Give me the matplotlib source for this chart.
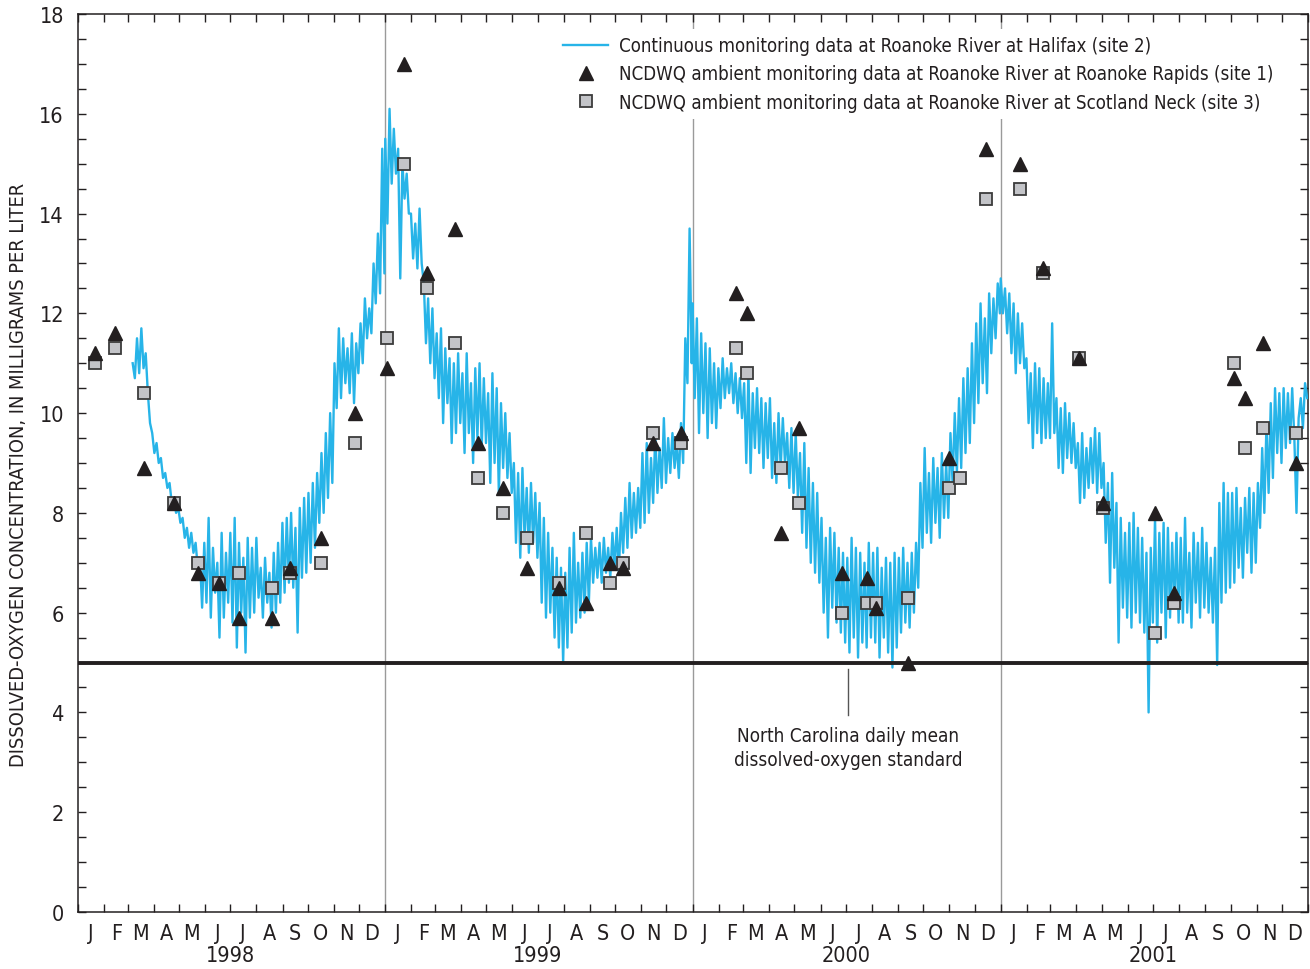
import numpy as np
import pandas as pd
import matplotlib
matplotlib.use("Agg")
import matplotlib.pyplot as plt
import matplotlib.dates as mdates
import matplotlib.transforms as mtransforms
from matplotlib.ticker import MultipleLocator, FuncFormatter, NullFormatter

plt.rcParams['font.family'] = ['DejaVu Sans']
plt.rcParams['font.stretch'] = 'condensed'

# Continuous dissolved-oxygen record, Roanoke River at Halifax (site 2), mg/L
# 12 readings per month, alternating daily highs and lows
do_1998 = [11.0, 10.7, 11.5, 10.8, 11.7, 10.9, 11.2, 10.4, 9.8,
           9.6, 9.2, 9.4, 9.0, 9.1, 8.7, 8.8, 8.5, 8.6, 8.2, 8.3, 8.0,
           8.1, 7.8, 7.9, 7.5, 7.7, 7.3, 7.6, 7.2, 7.4, 6.9, 7.1, 6.1,
           7.4, 6.2, 7.9, 5.9, 7.3, 6.4, 7.0, 5.5, 7.6, 5.9, 7.2, 6.2,
           7.6, 5.8, 7.9, 5.3, 7.4, 6.0, 7.1, 5.2, 7.5, 5.9, 7.3, 6.0,
           7.5, 6.3, 6.9, 5.9, 7.1, 6.2, 6.8, 5.7, 7.2, 6.0, 7.4, 6.2,
           7.8, 6.4, 7.9, 6.6, 8.0, 6.5, 7.7, 5.6, 8.1, 6.7, 8.3, 6.8,
           8.4, 7.0, 8.6, 7.3, 8.8, 7.8, 9.2, 8.0, 9.6, 8.3, 10.0, 8.6,
           11.0, 10.1, 11.7, 10.3, 11.5, 10.6, 11.3, 10.4, 11.6, 10.2, 11.4, 10.8,
           11.8, 11.0, 12.3, 11.5, 12.1, 11.6, 13.0, 12.2, 13.6, 12.4, 15.3, 12.8]
do_1999 = [15.5, 13.8, 16.1, 14.6, 15.7, 14.8, 15.3, 12.7, 15.0, 14.3, 14.8, 14.0,
           14.0, 13.1, 13.8, 12.9, 14.1, 13.0, 12.6, 11.4, 12.3, 11.0, 12.1, 10.7,
           11.6, 10.3, 11.7, 9.8, 11.3, 10.2, 11.1, 9.4, 11.0, 9.6, 11.2, 9.8,
           10.8, 9.2, 11.2, 9.6, 10.6, 9.0, 10.9, 9.5, 11.0, 9.3, 10.7, 9.4,
           10.4, 8.6, 10.8, 9.0, 10.5, 8.4, 10.2, 8.9, 10.0, 8.7, 9.6, 8.4,
           9.0, 7.4, 8.8, 7.1, 8.9, 7.5, 8.5, 7.2, 8.6, 7.4, 8.4, 7.1,
           8.2, 6.2, 7.9, 5.9, 7.6, 6.0, 7.3, 5.5, 7.1, 5.3, 6.9, 5.0,
           6.8, 5.3, 7.3, 5.6, 7.6, 5.8, 7.0, 5.9, 7.2, 6.0, 7.4, 6.2,
           7.5, 6.6, 7.3, 6.7, 7.4, 6.6, 7.5, 6.8, 7.3, 6.7, 7.6, 6.9,
           7.7, 6.8, 8.0, 7.2, 8.3, 7.3, 8.6, 7.5, 8.4, 7.6, 8.5, 7.7,
           9.2, 7.8, 9.4, 8.0, 9.1, 8.2, 9.6, 8.4, 9.3, 8.5, 9.9, 8.6,
           9.5, 8.8, 9.6, 8.9, 9.4, 8.7, 9.8, 9.0, 11.5, 10.6, 13.7, 11.0]
do_2000 = [12.2, 10.3, 11.9, 9.6, 11.6, 10.0, 11.4, 9.5, 11.3, 9.8, 11.0, 9.7,
           10.9, 10.1, 11.1, 10.3, 10.9, 10.4, 11.0, 10.2, 10.8, 10.0, 10.7, 9.9,
           10.6, 9.0, 10.8, 8.8, 10.4, 9.3, 10.5, 9.2, 10.3, 8.9, 10.2, 9.1,
           10.3, 8.7, 9.8, 8.6, 10.0, 8.9, 9.9, 9.0, 9.6, 8.5, 9.7, 8.4,
           9.6, 8.3, 9.2, 7.6, 9.4, 7.3, 8.9, 7.0, 8.6, 6.8, 8.4, 6.6,
           7.9, 6.0, 7.5, 5.5, 7.7, 6.1, 7.6, 5.8, 7.3, 5.6, 7.2, 5.4,
           7.1, 5.2, 7.5, 5.5, 7.3, 5.1, 7.2, 5.4, 7.0, 5.3, 7.4, 5.5,
           7.2, 5.4, 7.3, 5.1, 6.9, 5.5, 7.1, 5.2, 7.0, 4.9, 7.2, 5.3,
           7.1, 5.6, 7.3, 5.8, 7.0, 5.7, 7.2, 6.0, 7.4, 6.5, 8.6, 7.3,
           9.3, 7.6, 8.8, 7.4, 9.1, 7.8, 8.9, 7.5, 9.2, 7.9, 9.0, 7.9,
           9.6, 8.6, 10.0, 8.8, 10.3, 8.9, 10.7, 9.2, 10.9, 9.4, 11.4, 9.8,
           11.8, 10.2, 12.2, 10.6, 11.9, 10.4, 12.4, 11.2, 12.3, 11.5, 12.6, 12.0]
do_2001 = [12.7, 12.0, 12.5, 11.6, 12.4, 11.2, 12.2, 10.8, 12.0, 11.0, 11.8, 10.9,
           11.1, 9.8, 10.8, 9.3, 11.0, 9.6, 10.9, 9.4, 10.7, 9.5, 10.6, 9.5,
           11.8, 9.6, 10.3, 8.9, 10.1, 8.8, 10.2, 9.1, 10.0, 9.0, 9.8, 8.9,
           9.4, 8.2, 9.6, 8.3, 9.3, 8.5, 9.5, 8.6, 9.7, 8.4, 9.6, 8.5,
           9.0, 7.4, 8.6, 6.6, 8.8, 6.9, 8.2, 5.4, 7.9, 6.1, 7.6, 5.9,
           7.8, 5.7, 8.0, 6.0, 7.7, 5.8, 7.5, 5.6, 7.2, 4.0, 7.3, 5.8,
           7.9, 5.4, 7.6, 6.0, 7.8, 5.5, 7.7, 5.9, 7.4, 6.1, 7.6, 5.8,
           7.5, 5.8, 7.9, 6.0, 7.2, 5.7, 7.6, 6.2, 7.4, 5.9, 7.7, 6.1,
           7.4, 6.0, 7.1, 5.8, 7.3, 4.95, 8.2, 6.2, 8.6, 6.4, 8.4, 6.5,
           8.4, 6.6, 8.5, 6.9, 8.1, 6.7, 8.3, 7.2, 8.5, 6.8, 8.4, 7.0,
           8.6, 7.7, 9.3, 8.0, 9.8, 8.4, 10.2, 8.7, 10.5, 9.2, 10.4, 9.0,
           10.5, 9.3, 10.4, 9.4, 10.5, 9.5, 8.0, 9.9, 10.3, 9.7, 10.6, 10.3]
record_spans = [('1998-03-07', '1998-12-31', do_1998),
                ('1999-01-01', '1999-12-31', do_1999),
                ('2000-01-01', '2000-12-31', do_2000),
                ('2001-01-01', '2001-12-31', do_2001)]

# NCDWQ ambient samples, Roanoke River at Roanoke Rapids (site 1)
site1_dates = ['1998-01-21', '1998-02-14', '1998-03-21', '1998-04-25', '1998-05-23',
               '1998-06-18', '1998-07-11', '1998-08-20', '1998-09-10', '1998-10-17',
               '1998-11-26', '1999-01-03', '1999-01-23', '1999-02-19', '1999-03-25',
               '1999-04-21', '1999-05-21', '1999-06-18', '1999-07-26', '1999-08-27',
               '1999-09-25', '1999-10-10', '1999-11-15', '1999-12-18', '2000-02-22',
               '2000-03-06', '2000-04-15', '2000-05-06', '2000-06-27', '2000-07-26',
               '2000-08-06', '2000-09-13', '2000-10-31', '2000-12-15', '2001-01-24',
               '2001-02-20', '2001-04-04', '2001-05-02', '2001-07-03', '2001-07-26',
               '2001-10-05', '2001-10-18', '2001-11-09', '2001-12-18']
site1_do = [11.2, 11.6, 8.9, 8.2, 6.8, 6.6, 5.9, 5.9, 6.9, 7.5,
            10.0, 10.9, 17.0, 12.8, 13.7, 9.4, 8.5, 6.9, 6.5, 6.2,
            7.0, 6.9, 9.4, 9.6, 12.4, 12.0, 7.6, 9.7, 6.8, 6.7,
            6.1, 5.0, 9.1, 15.3, 15.0, 12.9, 11.1, 8.2, 8.0, 6.4,
            10.7, 10.3, 11.4, 9.0]

# NCDWQ ambient samples, Roanoke River at Scotland Neck (site 3)
site3_dates = ['1998-01-21', '1998-02-14', '1998-03-21', '1998-04-25', '1998-05-23',
               '1998-06-18', '1998-07-11', '1998-08-20', '1998-09-10', '1998-10-17',
               '1998-11-26', '1999-01-03', '1999-01-23', '1999-02-19', '1999-03-25',
               '1999-04-21', '1999-05-21', '1999-06-18', '1999-07-26', '1999-08-27',
               '1999-09-25', '1999-10-10', '1999-11-15', '1999-12-18', '2000-02-22',
               '2000-03-06', '2000-04-15', '2000-05-06', '2000-06-27', '2000-07-26',
               '2000-08-06', '2000-09-13', '2000-10-31', '2000-11-14', '2000-12-15',
               '2001-01-24', '2001-02-20', '2001-04-04', '2001-05-02', '2001-07-03',
               '2001-07-26', '2001-10-05', '2001-10-18', '2001-11-09', '2001-12-18']
site3_do = [11.0, 11.3, 10.4, 8.2, 7.0, 6.6, 6.8, 6.5, 6.8, 7.0,
            9.4, 11.5, 15.0, 12.5, 11.4, 8.7, 8.0, 7.5, 6.6, 7.6,
            6.6, 7.0, 9.6, 9.4, 11.3, 10.8, 8.9, 8.2, 6.0, 6.2,
            6.2, 6.3, 8.5, 8.7, 14.3, 14.5, 12.8, 11.1, 8.1, 5.6,
            6.2, 11.0, 9.3, 9.7, 9.6]

do_standard = 5.0
years = [1998, 1999, 2000, 2001]
month_letters = ['J', 'F', 'M', 'A', 'M', 'J', 'J', 'A', 'S', 'O', 'N', 'D']

ink = '#231f20'
blue = '#27b4e8'

fig = plt.figure(figsize=(13.1, 9.7), dpi=100)
ax = fig.add_axes([0.0595, 0.0588, 0.939, 0.9257])

# continuous record
cont_t = []
cont_v = []
for start, end, vals in record_spans:
    cont_t.append(pd.date_range(start, end, periods=len(vals)))
    cont_v.extend(vals)
cont_t = cont_t[0].append(cont_t[1:])
ax.plot(cont_t, cont_v, color=blue, lw=1.7, zorder=3,
        label='Continuous monitoring data at Roanoke River at Halifax (site 2)')

# ambient samples
ax.plot(pd.to_datetime(site1_dates), site1_do, linestyle='none', marker='^', ms=10,
        mfc=ink, mec=ink, zorder=5,
        label='NCDWQ ambient monitoring data at Roanoke River at Roanoke Rapids (site 1)')
ax.plot(pd.to_datetime(site3_dates), site3_do, linestyle='none', marker='s', ms=9,
        mfc='#c3c4c8', mec='#3b3b3b', mew=1.3, zorder=4,
        label='NCDWQ ambient monitoring data at Roanoke River at Scotland Neck (site 3)')

# state standard and year dividers
ax.axhline(do_standard, color=ink, lw=2.8, zorder=4)
for yr in years[1:]:
    ax.axvline(pd.Timestamp(f'{yr}-01-01'), color='#9a9a9a', lw=1.0, zorder=1)

# callout for the standard
callout_x = pd.Timestamp('2000-07-04')
ax.plot([callout_x, callout_x], [4.87, 3.95], color='#555555', lw=1.0)
ax.text(callout_x, 3.3, 'North Carolina daily mean\ndissolved-oxygen standard',
        ha='center', va='center', fontsize=13.6, color=ink, linespacing=1.3)

ax.set_xlim(pd.Timestamp('1998-01-01'), pd.Timestamp('2002-01-01'))
ax.set_ylim(0, 18)

ax.xaxis.set_major_locator(mdates.MonthLocator())
ax.xaxis.set_major_formatter(NullFormatter())
ax.xaxis.set_minor_locator(mdates.MonthLocator(bymonthday=16))
ax.xaxis.set_minor_formatter(FuncFormatter(
    lambda x, pos: month_letters[mdates.num2date(x).month - 1]))
ax.yaxis.set_major_locator(MultipleLocator(2))
ax.yaxis.set_minor_locator(MultipleLocator(0.5))

ax.tick_params(which='both', direction='in', top=True, right=True, color=ink, width=1.0)
ax.tick_params(axis='x', which='major', length=6)
ax.tick_params(axis='x', which='minor', length=0, labelsize=15.5, pad=8, labelcolor=ink)
ax.tick_params(axis='y', which='both', length=6, labelsize=15.5, pad=10, labelcolor=ink)

for sp in ax.spines.values():
    sp.set_color(ink)
    sp.set_linewidth(1.1)

# year labels under the month letters
trans = mtransforms.blended_transform_factory(ax.transData, ax.transAxes)
for yr in years:
    ax.text(pd.Timestamp(f'{yr}-07-01'), -0.048, str(yr), transform=trans,
            ha='center', va='center', fontsize=15.5, color=ink)

ax.set_ylabel('DISSOLVED-OXYGEN CONCENTRATION, IN MILLIGRAMS PER LITER',
              fontsize=14.3, color=ink)
ax.yaxis.set_label_coords(-0.041, 0.488)

leg = ax.legend(loc='upper left', bbox_to_anchor=(0.381, 0.994), fontsize=13.4,
                frameon=True, framealpha=1, facecolor='white', edgecolor='none',
                fancybox=False, handlelength=2.4, handletextpad=0.6,
                labelspacing=0.5, borderpad=0.4)
for txt in leg.get_texts():
    txt.set_color(ink)

fig.savefig('out.png', dpi=100)
